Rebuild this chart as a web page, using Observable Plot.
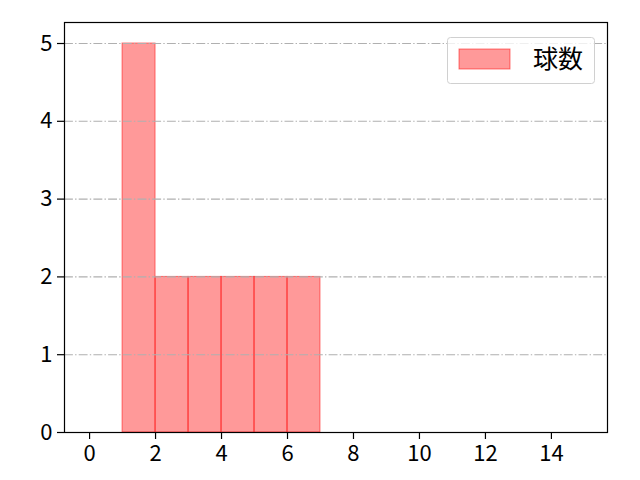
<!DOCTYPE html>
<html>
<head>
<meta charset="utf-8">
<script src="https://cdn.jsdelivr.net/npm/d3@7"></script>
<script src="https://cdn.jsdelivr.net/npm/@observablehq/plot@0.6"></script>
<style>
html,body{margin:0;padding:0;background:#fff;}
svg text{font-size:22px !important;}
svg text.legend-label{font-size:25px !important;}
</style>
</head>
<body>
<div id="chart"></div>
<script>
const binStarts = [1, 2, 3, 4, 5, 6];
const binEnds = [2, 3, 4, 5, 6, 7];
const counts = [5, 2, 2, 2, 2, 2];
const xTicks = [0, 2, 4, 6, 8, 10, 12, 14];
const yTicks = [0, 1, 2, 3, 4, 5];
const seriesName = "球数";

const bins = binStarts.map((s, i) => ({x1: s, x2: binEnds[i], y: counts[i]}));

const font = "'Noto Sans CJK JP', 'DejaVu Sans', sans-serif";
const fmt = d => String(d);

const plot = Plot.plot({
  width: 640,
  height: 480,
  marginLeft: 64,
  marginRight: 33,
  marginTop: 22,
  marginBottom: 48,
  style: {fontFamily: font, fontSize: "22px", background: "#fff", color: "#000"},
  x: {domain: [-0.76, 15.7], label: null},
  y: {domain: [0, 5.27], label: null},
  marks: [
    Plot.rectY(bins, {x1: "x1", x2: "x2", y: "y", fill: "red", fillOpacity: 0.4, stroke: "red", strokeOpacity: 0.5, strokeWidth: 1, inset: 0}),
    Plot.gridY(yTicks, {stroke: "#b0b0b0", strokeOpacity: 1, strokeWidth: 1.1, strokeDasharray: "8.9,2.2,1.4,2.2"}),
    Plot.frame({stroke: "#000", strokeWidth: 1.2}),
    Plot.axisX(xTicks, {tickSize: 7, tickPadding: 6, tickFormat: fmt, stroke: "#000", strokeWidth: 1.2, label: null}),
    Plot.axisY(yTicks, {tickSize: 7, tickPadding: 5, tickFormat: fmt, stroke: "#000", strokeWidth: 1.2, label: null})
  ]
});

document.getElementById("chart").appendChild(plot);

const svg = d3.select(plot);

// Legend
const lg = svg.append("g");
lg.append("rect").attr("x", 447.5).attr("y", 37.5).attr("width", 147).attr("height", 46)
  .attr("rx", 3).attr("fill", "#fff").attr("fill-opacity", 0.8).attr("stroke", "#d0d0d0");
lg.append("rect").attr("x", 459).attr("y", 49).attr("width", 51).attr("height", 20)
  .attr("fill", "red").attr("fill-opacity", 0.4).attr("stroke", "red").attr("stroke-opacity", 0.5);
lg.append("text").attr("class", "legend-label").attr("x", 533).attr("y", 68).text(seriesName)
  .attr("text-anchor", "start")
  .style("font-family", "'Noto Sans CJK JP', sans-serif").attr("fill", "#000");
</script>
</body>
</html>
